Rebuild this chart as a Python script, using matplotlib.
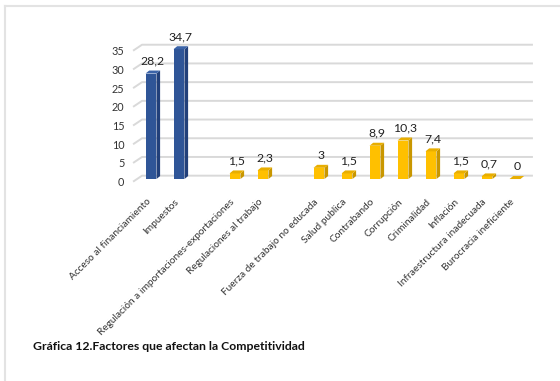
import matplotlib
matplotlib.use("Agg")
import matplotlib.pyplot as plt
from matplotlib.patches import Polygon
from matplotlib.transforms import ScaledTranslation
import numpy as np

plt.rcParams['font.family'] = ['Lato', 'DejaVu Sans']

categories = ["Acceso al financiamiento", "Impuestos", "",
              "Regulación a importaciones-exportaciones", "Regulaciones al trabajo", "",
              "Fuerza de trabajo no educada", "Salud publica", "Contrabando",
              "Corrupción", "Criminalidad", "Inflación",
              "Infraestructura inadecuada", "Burocracia ineficiente"]
values = [28.2, 34.7, None, 1.5, 2.3, None, 3, 1.5, 8.9, 10.3, 7.4, 1.5, 0.7, 0]
labels = ["28,2", "34,7", "", "1,5", "2,3", "", "3", "1,5", "8,9", "10,3", "7,4", "1,5", "0,7", "0"]
groups = ["blue", "blue", None, "yellow", "yellow", None, "yellow", "yellow", "yellow",
          "yellow", "yellow", "yellow", "yellow", "yellow"]
yticks = [0, 5, 10, 15, 20, 25, 30, 35]

W, H = 560, 381
fig = plt.figure(figsize=(W / 100, H / 100), dpi=100)

# axes geometry in pixels
px_left, px_width = 131.4, 403.2
px_bottom, px_top = 185.4, 32.0
ax = fig.add_axes([px_left / W, (H - px_bottom) / H, px_width / W, (px_bottom - px_top) / H])
ax.set_xlim(-0.7, 13.7)
ax.set_ylim(-1, 40)
for s in ax.spines.values():
    s.set_visible(False)

# 3D gridlines (back wall + short floor diagonals)
back_dx, back_dy = 0.32, 1.6
for v in yticks:
    ax.plot([-0.64, -0.64 + back_dx, 13.64], [v, v + back_dy, v + back_dy],
            color="#D9D9D9", lw=1.4, zorder=0, solid_capstyle='butt')

colors = {
    "blue": ("#2F5597", "#22407A", "#3B63A8"),
    "yellow": ("#FFC000", "#C99700", "#E8AE00"),
}
floor = 0.7
bw = 0.39
ddx, ddy = 0.13, 0.8
x = np.arange(len(categories))
for i, (v, g) in enumerate(zip(values, groups)):
    if v is None:
        continue
    front, side, top = colors[g]
    bars = ax.bar(x[i], v, width=bw, bottom=floor, color=front, zorder=2, linewidth=0)
    r = bars[0]
    x0, x1 = r.get_x(), r.get_x() + r.get_width()
    y0, y1 = r.get_y(), r.get_y() + r.get_height()
    ax.add_patch(Polygon([(x1, y0), (x1 + ddx, y0 + ddy), (x1 + ddx, y1 + ddy), (x1, y1)],
                         closed=True, facecolor=side, edgecolor='none', zorder=2))
    ax.add_patch(Polygon([(x0, y1), (x0 + ddx, y1 + ddy), (x1 + ddx, y1 + ddy), (x1, y1)],
                         closed=True, facecolor=top, edgecolor='none', zorder=2))
    ax.annotate(labels[i], (x[i] + ddx / 2, y1 + ddy), xytext=(0, 3), textcoords='offset points',
                ha='center', va='bottom', fontsize=8.8, color='#222222', zorder=3)

ax.set_yticks(yticks)
ax.set_yticklabels([str(t) for t in yticks], fontsize=7.8, color='#333333')
ax.tick_params(axis='y', length=0, pad=5)
ax.set_xticks(x)
ax.set_xticklabels(categories, rotation=45, ha='right', rotation_mode='anchor',
                   fontsize=7.3, color='#333333')
ax.tick_params(axis='x', length=0, pad=7)
shift = ScaledTranslation(-5 / 100, -2 / 100, fig.dpi_scale_trans)
for lbl in ax.get_xticklabels():
    lbl.set_transform(lbl.get_transform() + shift)

# caption
fig.text(33 / W, 1 - 347 / H, "Gráfica 12.Factores que afectan la Competitividad",
         fontsize=8.8, fontweight='bold', ha='left', va='center', color='#111111')

# frame lines
fig.add_artist(plt.Line2D([5 / W, 1], [1 - 6 / H, 1 - 6 / H], transform=fig.transFigure,
                          color='#E3E3E3', lw=1.5))
fig.add_artist(plt.Line2D([5 / W, 5 / W], [0, 1 - 6 / H], transform=fig.transFigure,
                          color='#E3E3E3', lw=1.5))

fig.savefig("out.png", dpi=100)
